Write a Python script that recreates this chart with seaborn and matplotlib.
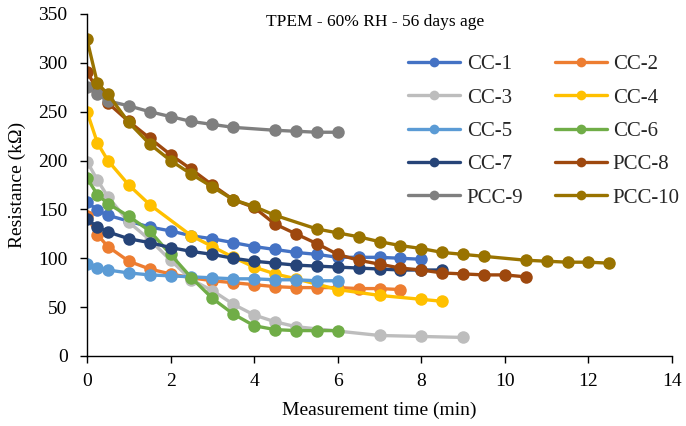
import matplotlib
matplotlib.use("Agg")
import matplotlib.pyplot as plt
import seaborn as sns
import pandas as pd

# ---- data ----
series_names = ["CC-1", "CC-2", "CC-3", "CC-4", "CC-5", "CC-6", "CC-7", "PCC-8", "PCC-9", "PCC-10"]
colors = ["#4472C4", "#ED7D31", "#BDBDBD", "#FFC000", "#5B9BD5", "#70AD47", "#264478", "#9E480E", "#7F7F7F", "#997300"]

t_cc1 = [0, 0.25, 0.5, 1, 1.5, 2, 2.5, 3, 3.5, 4, 4.5, 5, 5.5, 6, 6.5, 7, 7.5, 8]
r_cc1 = [158, 149, 144, 138, 132, 128, 123, 120, 116, 112, 109, 106, 104, 101, 101, 101, 100, 99]

t_cc2 = [0, 0.25, 0.5, 1, 1.5, 2, 2.5, 3, 3.5, 4, 4.5, 5, 5.5, 6, 6.5, 7, 7.5]
r_cc2 = [143, 124, 112, 97, 89, 84, 80, 77, 75, 73, 71, 70, 70, 70, 69, 69, 68]

t_cc3 = [0, 0.25, 0.5, 1, 1.5, 2, 2.5, 3, 3.5, 4, 4.5, 5, 7, 8, 9]
r_cc3 = [199, 180, 163, 137, 119, 98, 78, 67, 53, 42, 35, 30, 21, 20, 19]

t_cc4 = [0, 0.25, 0.5, 1, 1.5, 2.5, 3, 3.5, 4, 4.5, 5, 6, 7, 8, 8.5]
r_cc4 = [250, 218, 200, 175, 155, 123, 112, 101, 91, 84, 79, 68, 62, 58, 56]

t_cc5 = [0, 0.25, 0.5, 1, 1.5, 2, 2.5, 3, 3.5, 4, 4.5, 5, 5.5, 6]
r_cc5 = [94, 90, 88, 85, 83, 82, 81, 80, 79, 79, 78, 78, 77, 77]

t_cc6 = [0, 0.25, 0.5, 1, 1.5, 2, 2.5, 3, 3.5, 4, 4.5, 5, 5.5, 6]
r_cc6 = [182, 165, 156, 143, 128, 104, 80, 59, 43, 31, 27, 26, 26, 26]

t_cc7 = [0, 0.25, 0.5, 1, 1.5, 2, 2.5, 3, 3.5, 4, 4.5, 5, 5.5, 6, 6.5, 7, 7.5, 8, 8.5]
r_cc7 = [140, 132, 127, 120, 116, 111, 107, 104, 100, 97, 95, 93, 92, 91, 90, 89, 88, 88, 88]

t_pcc8 = [0, 0.25, 0.5, 1, 1.5, 2, 2.5, 3, 3.5, 4, 4.5, 5, 5.5, 6, 6.5, 7, 7.5, 8, 8.5, 9, 9.5, 10, 10.5]
r_pcc8 = [291, 272, 259, 240, 223, 206, 191, 175, 160, 152, 135, 125, 115, 104, 98, 94, 90, 88, 85, 84, 83, 83, 81]

t_pcc9 = [0, 0.25, 0.5, 1, 1.5, 2, 2.5, 3, 3.5, 4.5, 5, 5.5, 6]
r_pcc9 = [275, 268, 261, 256, 250, 245, 240, 237, 234, 231, 230, 229, 229]

t_pcc10 = [0, 0.25, 0.5, 1, 1.5, 2, 2.5, 3, 3.5, 4, 4.5, 5.5, 6, 6.5, 7, 7.5, 8, 8.5, 9, 9.5, 10.5, 11, 11.5, 12, 12.5]
r_pcc10 = [324, 279, 268, 239, 217, 200, 186, 173, 160, 153, 144, 130, 126, 122, 117, 113, 110, 106, 104, 102, 98, 97, 96, 96, 95]

x_ticks = [0, 2, 4, 6, 8, 10, 12, 14]
y_ticks = [0, 50, 100, 150, 200, 250, 300, 350]

title_text = "TPEM - 60% RH - 56 days age"
x_label = "Measurement time (min)"
y_label = "Resistance (kΩ)"

times = [t_cc1, t_cc2, t_cc3, t_cc4, t_cc5, t_cc6, t_cc7, t_pcc8, t_pcc9, t_pcc10]
vals = [r_cc1, r_cc2, r_cc3, r_cc4, r_cc5, r_cc6, r_cc7, r_pcc8, r_pcc9, r_pcc10]

rows = []
for name, ts, rs in zip(series_names, times, vals):
    for t, r in zip(ts, rs):
        rows.append({"time": t, "res": r, "series": name})
df = pd.DataFrame(rows)

# ---- style ----
sns.set_theme(style="white")
plt.rcParams["font.family"] = ["Liberation Serif", "DejaVu Serif"]

fig = plt.figure(figsize=(6.86, 4.26), dpi=100)
ax = fig.add_axes([87 / 686, 1 - 356 / 426, (672 - 87) / 686, (356 - 14) / 426])

sns.lineplot(data=df, x="time", y="res", hue="series", hue_order=series_names,
             palette=dict(zip(series_names, colors)), marker="o", markersize=9,
             markeredgewidth=0, linewidth=2.4, sort=False, estimator=None,
             ax=ax, legend=True)

ax.set_xlim(0, 14)
ax.set_ylim(0, 350)
ax.set_xticks(x_ticks)
ax.set_yticks(y_ticks)
ax.tick_params(axis="both", which="major", labelsize=14, direction="out", length=5,
               width=1, color="black", labelcolor="black", bottom=True, left=True)
ax.tick_params(axis="y", pad=9)
ax.tick_params(axis="x", pad=7)
ax.set_xlabel(x_label, fontsize=14, color="black", labelpad=9)
ax.set_ylabel(y_label, fontsize=14, color="black", labelpad=9)
for s in ["top", "right"]:
    ax.spines[s].set_visible(False)
for s in ["left", "bottom"]:
    ax.spines[s].set_color("black")
    ax.spines[s].set_linewidth(1)
ax.grid(False)

ax.text(0.492, 0.977, title_text, transform=ax.transAxes, ha="center", va="center",
        fontsize=12.5, color="black")

handles, labels = ax.get_legend_handles_labels()
hmap = dict(zip(labels, handles))
order = ["CC-1", "CC-3", "CC-5", "CC-7", "PCC-9", "CC-2", "CC-4", "CC-6", "PCC-8", "PCC-10"]
leg = ax.legend([hmap[k] for k in order], order, ncol=2, frameon=False,
                loc="upper left", bbox_to_anchor=(0.535, 0.905), fontsize=15,
                handlelength=2.5, columnspacing=1.5, labelspacing=0.66, handletextpad=0.3,
                borderaxespad=0)
for h in leg.legend_handles:
    h.set_markersize(7)

fig.savefig("out.png", dpi=100)
